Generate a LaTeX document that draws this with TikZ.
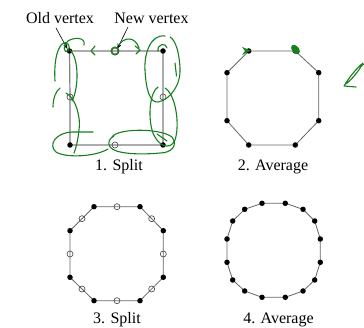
\documentclass[tikz,border=0pt]{standalone}
\usepackage{fontspec}
\setmainfont{Liberation Serif}
\usetikzlibrary{calc,arrows.meta}
\definecolor{inkgreen}{RGB}{22,128,30}
\pgfdeclarelayer{bg}
\pgfsetlayers{bg,main}
\begin{document}
\begin{tikzpicture}[x=1pt,y=-1pt,
  dot/.style={circle,fill=black,inner sep=0pt,minimum size=5.5pt},
  odot/.style={circle,draw=black!75,line width=0.6pt,inner sep=0pt,minimum size=6pt},
  edgeone/.style={draw=black!50,line width=1.2pt},
  edgen/.style={draw=black!60,line width=0.8pt},
  lab/.style={font=\fontsize{16}{19}\selectfont,anchor=base,inner sep=0pt},
  ink/.style={draw=inkgreen,line width=1.1pt,line cap=round,line join=round},
  pointer/.style={-{Stealth[length=5pt,width=4pt]},line width=0.6pt}]
\useasboundingbox (0,0) rectangle (364,328);

% ---------- panel 1 ----------
\node[dot]  (a1) at (69.5,51) {};
\node[odot] (a2) at (115,51) {};
\node[dot]  (a3) at (163,51) {};
\node[odot] (a4) at (163,97) {};
\node[dot]  (a5) at (163,145) {};
\node[odot] (a6) at (115,145) {};
\node[dot]  (a7) at (70,145) {};
\node[odot] (a8) at (70,97) {};
\begin{pgfonlayer}{bg}
\draw[edgeone] (a1.center) -- (a2.center) -- (a3.center) -- (a4.center) -- (a5.center)
  -- (a6.center) -- (a7.center) -- (a8.center) -- cycle;
\end{pgfonlayer}
\node[lab] (t1) at (119,170.5) {1. Split};
\node[lab] (old) at (60,24) {Old vertex};
\node[lab] (new) at (151.5,24) {New vertex};
\coordinate (oldtail) at (56,28);
\coordinate (newtail) at (128,27);
\draw[pointer] (oldtail) -- (a1.north west);
\draw[pointer] (newtail) -- (a2.north east);

% ---------- panel 2 ----------
\node[dot] (b1) at (248.7,51) {};
\node[dot] (b2) at (295.3,51) {};
\node[dot] (b3) at (318.7,72.7) {};
\node[dot] (b4) at (318.7,120.7) {};
\node[dot] (b5) at (295.3,145) {};
\node[dot] (b6) at (248.7,145) {};
\node[dot] (b7) at (227,120.7) {};
\node[dot] (b8) at (227,72.7) {};
\begin{pgfonlayer}{bg}
\draw[edgen] (b1.center) -- (b2.center) -- (b3.center) -- (b4.center) -- (b5.center)
  -- (b6.center) -- (b7.center) -- (b8.center) -- cycle;
\end{pgfonlayer}
\node[lab] (t2) at (273,170.5) {2. Average};

% ---------- panel 3 ----------
\node[dot] (c1) at (94,206.7) {};
\node[dot] (c2) at (140,206.7) {};
\node[dot] (c3) at (163.3,230.7) {};
\node[dot] (c4) at (163.3,277.3) {};
\node[dot] (c5) at (140,300.7) {};
\node[dot] (c6) at (94,300.7) {};
\node[dot] (c7) at (70,277.3) {};
\node[dot] (c8) at (70,230.7) {};
\node[odot] (m1) at ($(c1)!0.5!(c2)$) {};
\node[odot] (m2) at ($(c2)!0.5!(c3)$) {};
\node[odot] (m3) at ($(c3)!0.5!(c4)$) {};
\node[odot] (m4) at ($(c4)!0.5!(c5)$) {};
\node[odot] (m5) at ($(c5)!0.5!(c6)$) {};
\node[odot] (m6) at ($(c6)!0.5!(c7)$) {};
\node[odot] (m7) at ($(c7)!0.5!(c8)$) {};
\node[odot] (m8) at ($(c8)!0.5!(c1)$) {};
\begin{pgfonlayer}{bg}
\draw[edgen] (c1.center) -- (c2.center) -- (c3.center) -- (c4.center) -- (c5.center)
  -- (c6.center) -- (c7.center) -- (c8.center) -- cycle;
\end{pgfonlayer}
\node[lab] (t3) at (117,324) {3. Split};

% ---------- panel 4 ----------
\node[dot] (d1) at (262,203.3) {};
\node[dot] (d2) at (285.3,203.3) {};
\node[dot] (d3) at (303,209.3) {};
\node[dot] (d4) at (314.7,221) {};
\node[dot] (d5) at (320.3,239) {};
\node[dot] (d6) at (320.3,262.3) {};
\node[dot] (d7) at (314.7,280) {};
\node[dot] (d8) at (303,291) {};
\node[dot] (d9) at (285.3,297.3) {};
\node[dot] (d10) at (262,297.3) {};
\node[dot] (d11) at (244.7,291) {};
\node[dot] (d12) at (232.7,280) {};
\node[dot] (d13) at (227,262.3) {};
\node[dot] (d14) at (227,239) {};
\node[dot] (d15) at (232.7,221) {};
\node[dot] (d16) at (244.7,209.3) {};
\begin{pgfonlayer}{bg}
\draw[edgen] (d1.center) -- (d2.center) -- (d3.center) -- (d4.center) -- (d5.center)
  -- (d6.center) -- (d7.center) -- (d8.center) -- (d9.center) -- (d10.center)
  -- (d11.center) -- (d12.center) -- (d13.center) -- (d14.center) -- (d15.center)
  -- (d16.center) -- cycle;
\end{pgfonlayer}
\node[lab] (t4) at (278.5,324) {4. Average};

% ---------- green handwriting ----------
% top-left curl
\draw[ink] (55,81) .. controls (54,65) and (56,50) .. (62,44)
  .. controls (66,40) and (72,46) .. (68,51)
  .. controls (64,54) and (62,46) .. (68,41)
  .. controls (74,37) and (86,37) .. (84,45);
\draw[ink] (53,107) .. controls (53,98) and (56,91) .. (60,88);
\draw[ink] (70,50) .. controls (79,58) and (79,88) .. (72,101);
\draw[ink] (66,93) .. controls (76,98) and (81,118) .. (79,130)
  .. controls (78,140) and (76,148) .. (74,153);
% bottom-left ellipse
\draw[ink] (93,132) -- (72,132) .. controls (55,133) and (48,145) .. (56,152)
  .. controls (65,158) and (95,157) .. (108,149);
% bottom-middle ellipse
\draw[ink] (112,137) .. controls (118,128) and (160,128) .. (172,137)
  .. controls (178,145) and (172,153) .. (160,153)
  .. controls (140,155) and (115,154) .. (110,147)
  .. controls (107,142) and (110,138) .. (114,136);
\draw[ink] (157,134) -- (167,141);
% right loops
\draw[ink] (165,36) .. controls (150,34) and (144,55) .. (145,70)
  .. controls (146,90) and (150,103) .. (158,102)
  .. controls (170,100) and (181,85) .. (180,68)
  .. controls (179,50) and (175,40) .. (170,37);
\draw[ink] (158,51) .. controls (157,44) and (166,42) .. (167,48);
\draw[ink] (175,63) -- (176.5,76);
\draw[ink] (158,87) .. controls (150,92) and (148,115) .. (152,130)
  .. controls (156,145) and (170,152) .. (175,140)
  .. controls (180,125) and (176,95) .. (165,88);
% top middle
\draw[ink] (a2) circle[radius=4];
\draw[ink] (119,45) .. controls (124,37) and (135,36) .. (139,48);
\draw[ink] (135,46) -- (140,50) -- (136,54);
\draw[ink] (95,46) -- (91,51) -- (95,55);
% panel 2 marks
\fill[inkgreen] (242,47) -- (251,50.5) -- (242,55) -- (245,51) -- cycle;
\fill[inkgreen, rotate around={-50:(295.5,49.5)}] (295.5,49.5) ellipse[x radius=5.5, y radius=3.5];
% check-like mark at right
\draw[ink] (356,87) -- (344,86) .. controls (350,76) and (357,68) .. (363,63)
  .. controls (359,71) and (352,79) .. (346,84);
\draw[ink] (359,67) -- (364,64);
\end{tikzpicture}
\end{document}
